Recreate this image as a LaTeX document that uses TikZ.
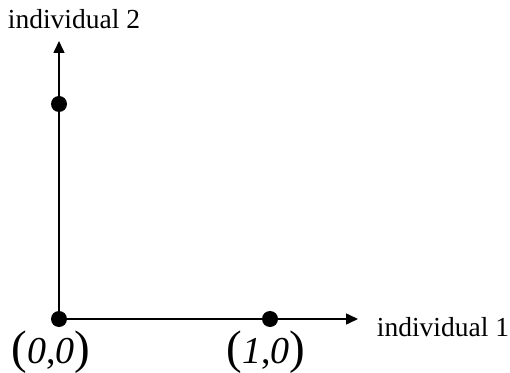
\documentclass[tikz,border=0pt]{standalone}
\usepackage{fontspec}
\setmainfont{Liberation Serif}
\usetikzlibrary{
  arrows.meta,  % 箭头样式
  positioning   % 节点相对定位
}

\begin{document}
\begin{tikzpicture}[x=1pt, y=1pt, line width=1.5pt, >={Triangle[length=12pt, width=11pt]}] % 坐标单位按 1pt 计，便于对齐
  \tikzset{
    dot/.style={circle, fill=black, inner sep=0pt, minimum size=16pt}, % 黑色实心点
    axislabel/.style={font=\fontsize{27.5}{30}\selectfont}, % 坐标轴文字
    pointlabel/.style={font=\fontsize{38}{42}\selectfont}  % 点的坐标
  }
  \newcommand{\bigparen}[1]{{\fontsize{47}{50}\selectfont #1}} % 较大的括号
  \useasboundingbox (0,0) rectangle (510,372); % 固定整体边界

  % ======= 坐标轴 =======
  \coordinate (O) at (59,53);    % 原点
  \coordinate (Xend) at (358,53); % 横轴箭头终点
  \coordinate (Yend) at (59,331); % 纵轴箭头终点
  \draw[->] (O) -- (Xend); % 横轴
  \draw[->] (O) -- (Yend); % 纵轴

  % ======= 三个点 =======
  \node[dot] (p00) at (O) {};
  \node[dot] (p10) at (270,53) {};
  \node[dot] (p01) at (59,268) {};

  % ======= 文字 =======
  \node[axislabel] (lab2) at (74,353) {individual 2};
  \node[axislabel] (lab1) at (443,45) {individual 1};
  \node[pointlabel] (t00) at (51,20) {\bigparen{(}\textit{0},\textit{0}\bigparen{)}};
  \node[pointlabel] (t10) at (266,20) {\bigparen{(}\textit{1},\textit{0}\bigparen{)}};
\end{tikzpicture}
\end{document}
